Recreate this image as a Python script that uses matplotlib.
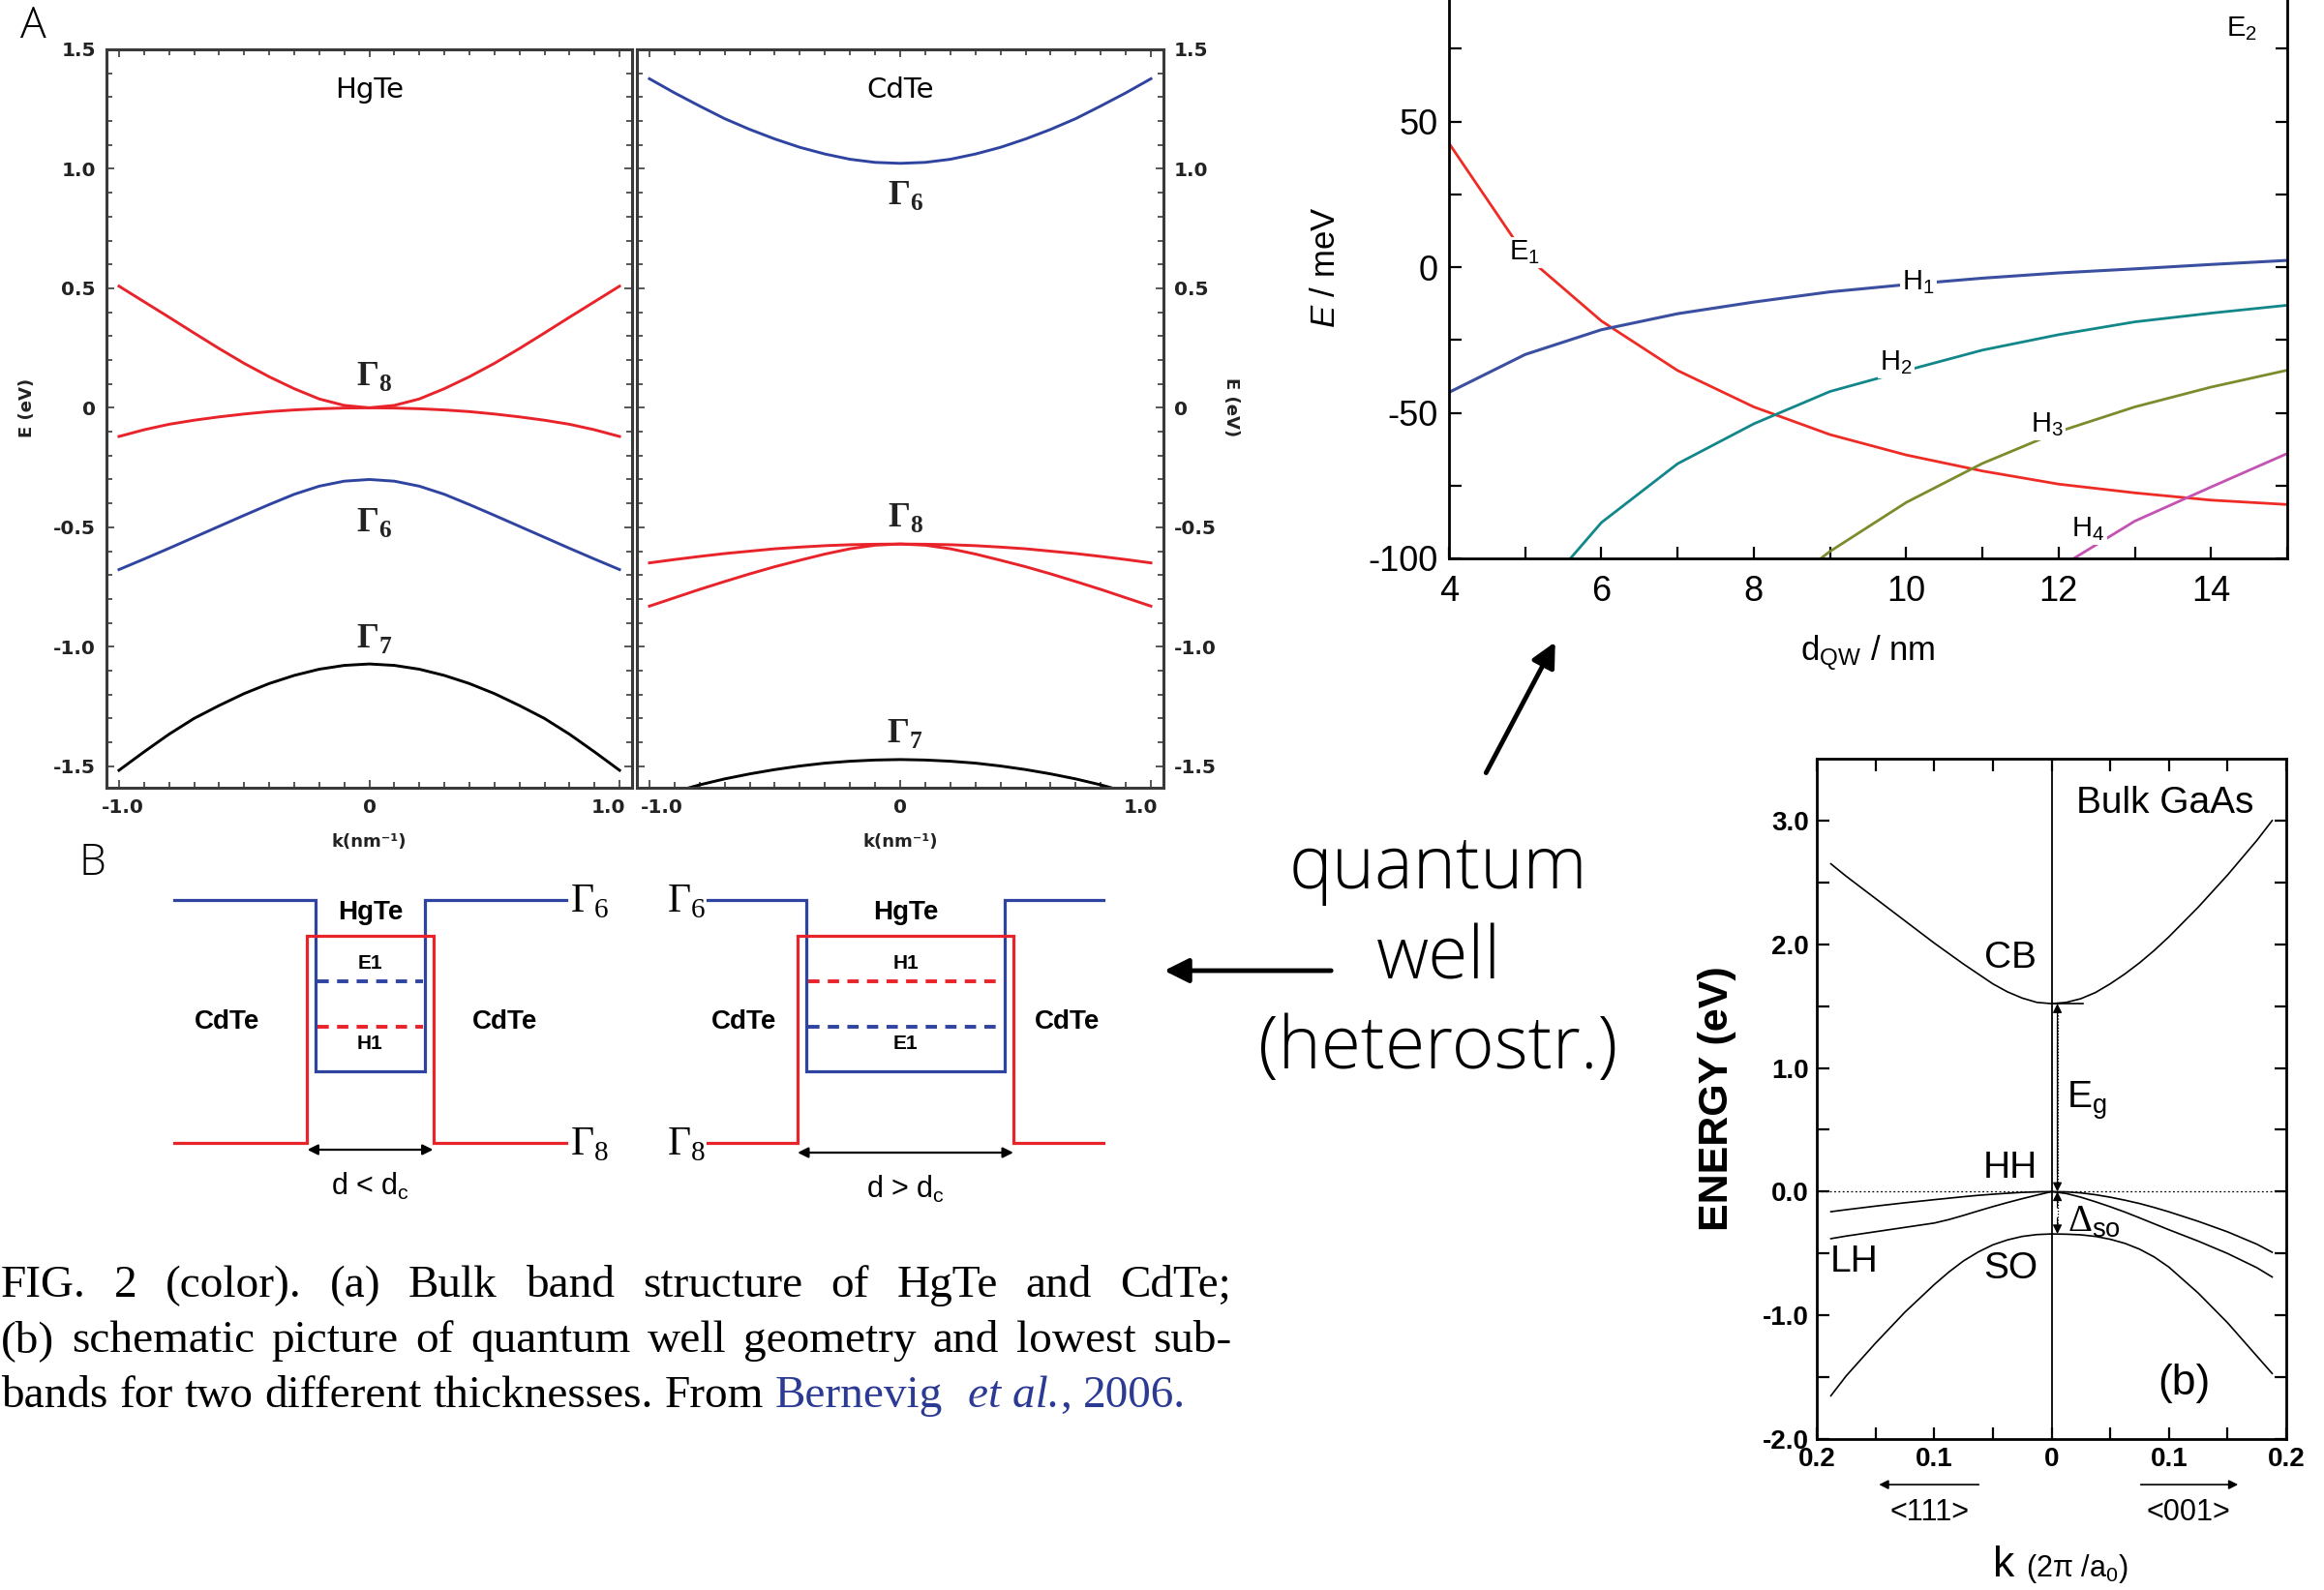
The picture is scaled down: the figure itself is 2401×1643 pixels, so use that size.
import numpy as np
import matplotlib
matplotlib.use("Agg")
import matplotlib.pyplot as plt
from matplotlib.patches import FancyArrowPatch
from matplotlib.ticker import FixedLocator, MultipleLocator

W, H = 2401, 1643

plt.rcParams['axes.unicode_minus'] = False
plt.rcParams['mathtext.fontset'] = 'custom'
plt.rcParams['mathtext.rm'] = 'Liberation Serif'
plt.rcParams['mathtext.bf'] = 'Liberation Serif:bold'
plt.rcParams['mathtext.it'] = 'Liberation Sans:italic'
plt.rcParams['mathtext.sf'] = 'Liberation Sans'

NARROW = ['Liberation Sans Narrow', 'Liberation Sans', 'DejaVu Sans']
SANS = ['Liberation Sans', 'DejaVu Sans']
LIGHT = ['Open Sans', 'Roboto', 'DejaVu Sans']

# ---------------- bulk bands of HgTe / CdTe (E in eV, k in 1/nm), k >= 0 half
K_HALF = [0.0, 0.1, 0.2, 0.3, 0.4, 0.5, 0.6, 0.7, 0.8, 0.9, 1.0]
HGTE_G8_UP = [0.0, 0.010, 0.037, 0.080, 0.130, 0.186, 0.248, 0.313, 0.379, 0.444, 0.509]
HGTE_G8_LO = [0.0, -0.001, -0.004, -0.009, -0.016, -0.026, -0.038, -0.052, -0.069, -0.092, -0.120]
HGTE_G6 = [-0.300, -0.307, -0.328, -0.362, -0.405, -0.450, -0.496, -0.542, -0.588, -0.633, -0.677]
HGTE_G7 = [-1.072, -1.078, -1.094, -1.120, -1.154, -1.196, -1.246, -1.300, -1.366, -1.440, -1.517]
CDTE_G6 = [1.023, 1.027, 1.040, 1.062, 1.090, 1.125, 1.165, 1.210, 1.263, 1.318, 1.377]
CDTE_G8_UP = [-0.570, -0.571, -0.573, -0.577, -0.583, -0.590, -0.600, -0.610, -0.622, -0.635, -0.649]
CDTE_G8_LO = [-0.570, -0.575, -0.590, -0.612, -0.638, -0.665, -0.695, -0.727, -0.760, -0.795, -0.830]
CDTE_G7 = [-1.472, -1.474, -1.479, -1.487, -1.499, -1.514, -1.532, -1.553, -1.578, -1.607, -1.640]

# ---------------- subband energies vs well width (meV, nm)
D_QW = [4, 5, 6, 7, 8, 9, 10, 11, 12, 13, 14, 15]
E1_MEV = [42.5, 4.0, -18.5, -35.5, -48.0, -57.5, -64.5, -70.0, -74.5, -77.5, -80.0, -81.5]
H1_MEV = [-43.0, -30.0, -21.5, -16.0, -12.0, -8.5, -6.0, -3.8, -2.0, -0.6, 0.9, 2.3]
D_H2 = [5, 6, 7, 8, 9, 10, 11, 12, 13, 14, 15]
H2_MEV = [-118.0, -87.7, -67.5, -53.8, -42.7, -35.5, -28.5, -23.2, -18.8, -15.8, -13.1]
D_H3 = [8, 9, 10, 11, 12, 13, 14, 15]
H3_MEV = [-117.6, -97.6, -80.8, -67.4, -56.5, -48.0, -41.2, -35.4]
D_H4 = [12, 13, 14, 15]
H4_MEV = [-103.2, -87.2, -75.5, -64.0]

# ---------------- bulk GaAs (negative k = <111>, positive k = <001>)
GAAS_K = [-0.188, -0.175, -0.15, -0.125, -0.1, -0.0875, -0.075, -0.0625, -0.05, -0.0375,
          -0.025, -0.0125, 0.0, 0.0125, 0.025, 0.0375, 0.05, 0.0625, 0.075, 0.0875,
          0.1, 0.125, 0.15, 0.175, 0.188]
GAAS_CB = [2.65, 2.55, 2.37, 2.19, 2.01, 1.925, 1.84, 1.76, 1.68, 1.615,
           1.565, 1.53, 1.52, 1.53, 1.56, 1.61, 1.68, 1.76, 1.85, 1.95,
           2.06, 2.30, 2.56, 2.84, 3.00]
GAAS_HH = [-0.162, -0.146, -0.117, -0.090, -0.065, -0.053, -0.041, -0.030, -0.021, -0.013,
           -0.006, -0.002, 0.0, -0.002, -0.010, -0.025, -0.045, -0.069, -0.096, -0.128,
           -0.163, -0.240, -0.325, -0.425, -0.490]
GAAS_LH = [-0.380, -0.359, -0.324, -0.289, -0.254, -0.226, -0.192, -0.156, -0.121, -0.088,
           -0.057, -0.028, 0.0, -0.015, -0.045, -0.082, -0.122, -0.165, -0.212, -0.260,
           -0.308, -0.400, -0.500, -0.615, -0.690]
GAAS_SO = [-1.650, -1.490, -1.225, -0.975, -0.752, -0.650, -0.560, -0.488, -0.430, -0.390,
           -0.362, -0.347, -0.342, -0.344, -0.349, -0.362, -0.385, -0.418, -0.465, -0.528,
           -0.610, -0.820, -1.060, -1.330, -1.470]
GAAS_EG = 1.52
GAAS_DSO = 0.342

# ---------------- quantum well schematic (energies normalised to barrier gap)
BARRIER_G6, BARRIER_G8 = 1.0, 0.0
WELL_G8, WELL_G6 = 0.853, 0.295
SUBBAND_UPPER, SUBBAND_LOWER = 0.665, 0.478
WELL_HALF = [0.278, 0.502]      # d < dc, d > dc

RED = '#e8232a'
BLUE = '#2f44a0'
SPINE = '#3a3a3a'
INK = '#222222'

fig = plt.figure(figsize=(W / 100, H / 100), dpi=100)


def px_box(x0, y0, x1, y1):
    return [x0 / W, 1 - y1 / H, (x1 - x0) / W, (y1 - y0) / H]


def mirror(vals):
    v = list(vals)
    return v[:0:-1] + v


K_FULL = [-k for k in K_HALF[:0:-1]] + K_HALF


def style_bulk(ax, xlab_pos, right=False):
    ax.set_xlim(-1.05, 1.05)
    ax.set_ylim(-1.59, 1.5)
    ax.xaxis.set_major_locator(FixedLocator([-1, 0, 1]))
    ax.xaxis.set_minor_locator(MultipleLocator(0.1))
    ax.set_xticklabels(['', '0', ''])
    yt = [-1.5, -1.0, -0.5, 0, 0.5, 1.0, 1.5]
    ax.yaxis.set_major_locator(FixedLocator(yt))
    ax.yaxis.set_minor_locator(MultipleLocator(0.1))
    ax.set_yticklabels(['-1.5', '-1.0', '-0.5', '0', '0.5', '1.0', '1.5'])
    ax.tick_params(which='both', direction='in', top=True, right=True,
                   color=SPINE, width=1.2)
    ax.tick_params(which='major', length=6, labelsize=14.5, pad=8)
    ax.tick_params(which='minor', length=4)
    if right:
        ax.tick_params(labelleft=False, labelright=True)
    for lab in ax.get_xticklabels() + ax.get_yticklabels():
        lab.set_fontweight('bold')
        lab.set_family('DejaVu Sans')
        lab.set_color(INK)
    # end labels of the k axis sit a little inside the frame
    for x, s in zip(xlab_pos, ['-1.0', '1.0']):
        ax.annotate(s, xy=(x, 0), xycoords=ax.get_xaxis_transform(), xytext=(0, -8),
                    textcoords='offset points', ha='center', va='top', fontsize=14.5,
                    fontweight='bold', family='DejaVu Sans', color=INK)
    for s in ax.spines.values():
        s.set_color(SPINE)
        s.set_linewidth(2.2)
    ax.set_xlabel('k(nm⁻¹)', fontsize=13, fontweight='bold', family='DejaVu Sans',
                  color=INK, labelpad=12)


def gamma(ax, x, y, n):
    ax.text(x, y, r'$\mathbf{\Gamma}_\mathbf{%d}$' % n, fontsize=26,
            ha='center', va='center', color=INK)


# ---------------- panel A: HgTe
ax_hg = fig.add_axes(px_box(110, 51, 653, 814))
ax_hg.plot(K_FULL, mirror(HGTE_G8_UP), color=RED, lw=2.1)
ax_hg.plot(K_FULL, mirror(HGTE_G8_LO), color=RED, lw=2.1)
ax_hg.plot(K_FULL, mirror(HGTE_G6), color=BLUE, lw=2.1)
ax_hg.plot(K_FULL, mirror(HGTE_G7), color='black', lw=2.1)
style_bulk(ax_hg, (-0.985, 0.955))
ax_hg.set_ylabel('E (eV)', fontsize=13, fontweight='bold', family='DejaVu Sans', color=INK)
ax_hg.yaxis.set_label_coords(-0.135, 0.515)
ax_hg.text(0, 1.33, 'HgTe', fontsize=21, ha='center', va='center', family='DejaVu Sans')
gamma(ax_hg, 0.02, 0.13, 8)
gamma(ax_hg, 0.02, -0.48, 6)
gamma(ax_hg, 0.02, -0.965, 7)

# ---------------- panel A: CdTe
ax_cd = fig.add_axes(px_box(658, 51, 1202, 814))
ax_cd.plot(K_FULL, mirror(CDTE_G6), color=BLUE, lw=2.1)
ax_cd.plot(K_FULL, mirror(CDTE_G8_UP), color=RED, lw=2.1)
ax_cd.plot(K_FULL, mirror(CDTE_G8_LO), color=RED, lw=2.1)
ax_cd.plot(K_FULL, mirror(CDTE_G7), color='black', lw=2.1)
style_bulk(ax_cd, (-0.95, 0.96), right=True)
ax_cd.yaxis.set_label_position('right')
ax_cd.set_ylabel('E (eV)', fontsize=13, fontweight='bold', family='DejaVu Sans',
                 color=INK, rotation=270)
ax_cd.yaxis.set_label_coords(1.145, 0.515)
ax_cd.text(0, 1.33, 'CdTe', fontsize=21, ha='center', va='center', family='DejaVu Sans')
gamma(ax_cd, 0.02, 0.89, 6)
gamma(ax_cd, 0.02, -0.46, 8)
gamma(ax_cd, 0.02, -1.365, 7)

fig.text(34 / W, 1 - 28 / H, 'A', fontsize=32, family=LIGHT, fontweight='light',
         ha='center', va='center')
fig.text(95 / W, 1 - 893 / H, 'B', fontsize=32, family=LIGHT, fontweight='light',
         ha='center', va='center')


# ---------------- panel B: well schematics
def draw_well(ax, half, upper, lower, arrow_y, d_text, gx, cdl, cdr):
    ax.set_xlim(-1, 1)
    ax.set_ylim(0, 1)
    ax.axis('off')
    hr = half + 0.043
    ax.plot([-1, -half, -half, half, half, 1],
            [BARRIER_G6, BARRIER_G6, WELL_G6, WELL_G6, BARRIER_G6, BARRIER_G6],
            color=BLUE, lw=2.3, solid_joinstyle='miter', clip_on=False)
    ax.plot([-1, -hr, -hr, hr, hr, 1],
            [BARRIER_G8, BARRIER_G8, WELL_G8, WELL_G8, BARRIER_G8, BARRIER_G8],
            color=RED, lw=2.3, solid_joinstyle='miter', clip_on=False)
    for lvl, (name, col) in ((SUBBAND_UPPER, upper), (SUBBAND_LOWER, lower)):
        ax.plot([-half + 0.01, half - 0.01], [lvl, lvl], color=col, lw=2.8,
                ls=(0, (3, 2.2)), clip_on=False)
    ax.text(0, 0.741, upper[0], fontsize=15, fontweight='bold', family=NARROW,
            ha='center', va='center')
    ax.text(0, 0.41, lower[0], fontsize=15, fontweight='bold', family=NARROW,
            ha='center', va='center')
    ax.text(0, 0.948, 'HgTe', fontsize=20, fontweight='bold', family=NARROW,
            ha='center', va='center')
    ax.text(cdl, 0.498, 'CdTe', fontsize=20, fontweight='bold', family=NARROW,
            ha='center', va='center')
    ax.text(cdr, 0.498, 'CdTe', fontsize=20, fontweight='bold', family=NARROW,
            ha='center', va='center')
    ax.text(gx, BARRIER_G6, r'$\Gamma_6$', fontsize=30, ha='center', va='center')
    ax.text(gx, BARRIER_G8, r'$\Gamma_8$', fontsize=30, ha='center', va='center')
    ax.annotate('', xy=(-hr, arrow_y), xytext=(hr, arrow_y),
                arrowprops=dict(arrowstyle='<|-|>', color='black', lw=1.6,
                                mutation_scale=16, shrinkA=0, shrinkB=0),
                annotation_clip=False)
    ax.text(0, arrow_y - 0.15, d_text, fontsize=22, family=NARROW,
            ha='center', va='center')


ax_b1 = fig.add_axes(px_box(180, 930, 585, 1181))
draw_well(ax_b1, WELL_HALF[0], ('E1', BLUE), ('H1', RED), -0.028,
          r'd < d$_\mathsf{c}$', 1.12, -0.733, 0.689)
ax_b2 = fig.add_axes(px_box(731, 930, 1140, 1181))
draw_well(ax_b2, WELL_HALF[1], ('H1', RED), ('E1', BLUE), -0.04,
          r'd > d$_\mathsf{c}$', -1.107, -0.816, 0.815)

# ---------------- subband energies vs well width
ax_qw = fig.add_axes(px_box(1497, -25, 2363, 577))
ax_qw.plot(D_QW, E1_MEV, color='#ee2b25', lw=2.0)
ax_qw.plot(D_QW, H1_MEV, color='#3b4fa0', lw=2.2)
ax_qw.plot(D_H2, H2_MEV, color='#12878a', lw=2.0)
ax_qw.plot(D_H3, H3_MEV, color='#7c8b2b', lw=2.0)
ax_qw.plot(D_H4, H4_MEV, color='#c452b3', lw=2.0)
ax_qw.set_xlim(4, 15)
ax_qw.set_ylim(-100, 100)
ax_qw.xaxis.set_major_locator(MultipleLocator(2))
ax_qw.xaxis.set_minor_locator(MultipleLocator(1))
ax_qw.yaxis.set_major_locator(FixedLocator([-100, -50, 0, 50, 100]))
ax_qw.set_yticklabels(['-100', '-50', '0', '50', ''])
ax_qw.yaxis.set_minor_locator(MultipleLocator(25))
ax_qw.tick_params(which='both', direction='in', right=True, top=True, width=1.6,
                  labelsize=26, length=9)
ax_qw.tick_params(axis='x', pad=12)
ax_qw.tick_params(axis='y', pad=8)
for lab in ax_qw.get_xticklabels() + ax_qw.get_yticklabels():
    lab.set_family(NARROW)
for s in ax_qw.spines.values():
    s.set_linewidth(2.0)
ax_qw.set_ylabel(r'$\mathit{E}$ / meV', fontsize=25, family=NARROW)
ax_qw.yaxis.set_label_coords(-0.128, 0.5)
ax_qw.set_xlabel(r'd$_\mathsf{QW}$ / nm', fontsize=25, family=NARROW)
ax_qw.xaxis.set_label_coords(0.5, -0.128)
box = dict(facecolor='white', edgecolor='none', pad=1.5)
for txt, x, y in ((r'E$_\mathsf{1}$', 4.99, 5.0), (r'H$_\mathsf{1}$', 10.16, -5.3),
                  (r'H$_\mathsf{2}$', 9.87, -32.8), (r'H$_\mathsf{3}$', 11.85, -54.0),
                  (r'H$_\mathsf{4}$', 12.39, -90.0), (r'E$_\mathsf{2}$', 14.4, 82.0)):
    ax_qw.text(x, y, txt, fontsize=21, family=NARROW, ha='center', va='center', bbox=box)

# ---------------- bulk GaAs
ax_ga = fig.add_axes(px_box(1877, 784, 2362, 1487))
for band in (GAAS_CB, GAAS_HH, GAAS_LH, GAAS_SO):
    ax_ga.plot(GAAS_K, band, color='black', lw=1.2)
ax_ga.set_xlim(-0.2, 0.2)
ax_ga.set_ylim(-2.0, 3.5)
ax_ga.axvline(0, color='black', lw=1.3)
ax_ga.axhline(0, color='black', lw=0.9, ls=(0, (1.5, 2)))
ax_ga.plot([0, 0.027], [GAAS_EG, GAAS_EG], color='black', lw=1.2)
kx = 0.005
ax_ga.plot([kx, kx], [0.05, GAAS_EG - 0.05], color='black', lw=0.9, ls=(0, (1, 1.5)))
ax_ga.plot([kx, kx], [-0.05, -GAAS_DSO + 0.05], color='black', lw=0.9, ls=(0, (1, 1.5)))
for y0, y1 in ((0.15, GAAS_EG), (GAAS_EG - 0.15, 0.0), (-0.13, 0.0), (-GAAS_DSO + 0.13, -GAAS_DSO)):
    ax_ga.annotate('', xy=(kx, y1), xytext=(kx, y0),
                   arrowprops=dict(arrowstyle='-|>', color='black', lw=0.9,
                                   mutation_scale=14, shrinkA=0, shrinkB=0))
ax_ga.set_xticks([-0.2, -0.15, -0.1, -0.05, 0, 0.05, 0.1, 0.15, 0.2])
ax_ga.set_xticklabels(['0.2', '', '0.1', '', '0', '', '0.1', '', '0.2'])
ax_ga.yaxis.set_major_locator(FixedLocator([-2, -1.5, -1, -0.5, 0, 0.5, 1, 1.5, 2, 2.5, 3]))
ax_ga.set_yticklabels(['-2.0', '', '-1.0', '', '0.0', '', '1.0', '', '2.0', '', '3.0'])
ax_ga.tick_params(direction='in', top=True, right=True, length=9, width=1.6,
                  labelsize=20, pad=6)
for lab in ax_ga.get_xticklabels() + ax_ga.get_yticklabels():
    lab.set_family(SANS)
    lab.set_fontweight('bold')
for s in ax_ga.spines.values():
    s.set_linewidth(2.0)
ax_ga.set_ylabel('ENERGY (eV)', fontsize=31, family=SANS, fontweight='bold')
ax_ga.yaxis.set_label_coords(-0.171, 0.5)
for txt, x, y, ha, fs in (('Bulk GaAs', 0.097, 3.14, 'center', 28), ('CB', -0.035, 1.89, 'center', 28),
                          (r'E$_\mathsf{g}$', 0.013, 0.74, 'left', 28), ('HH', -0.035, 0.19, 'center', 28),
                          (r'$\Delta_\mathsf{so}$', 0.014, -0.25, 'left', 28),
                          ('LH', -0.168, -0.57, 'center', 28), ('SO', -0.035, -0.62, 'center', 28),
                          ('(b)', 0.113, -1.55, 'center', 32)):
    ax_ga.text(x, y, txt, fontsize=fs, family=SANS, ha=ha, va='center')
tr = ax_ga.get_xaxis_transform()
ax_ga.annotate('', xy=(-0.147, -0.067), xytext=(-0.062, -0.067), xycoords=tr,
               arrowprops=dict(arrowstyle='-|>', color='black', lw=1.2, mutation_scale=14,
                               shrinkA=0, shrinkB=0), annotation_clip=False)
ax_ga.annotate('', xy=(0.159, -0.067), xytext=(0.076, -0.067), xycoords=tr,
               arrowprops=dict(arrowstyle='-|>', color='black', lw=1.2, mutation_scale=14,
                               shrinkA=0, shrinkB=0), annotation_clip=False)
ax_ga.text(-0.104, -0.108, '<111>', transform=tr, fontsize=22, family=SANS,
           ha='center', va='center')
ax_ga.text(0.117, -0.108, '<001>', transform=tr, fontsize=22, family=SANS,
           ha='center', va='center')
ax_ga.text(-0.041, -0.186, 'k', transform=tr, fontsize=32, family=SANS,
           ha='center', va='center')
ax_ga.text(-0.022, -0.19, r'(2$\mathsf{\pi}$ /a$_\mathsf{0}$)', transform=tr, fontsize=22,
           family=SANS, ha='left', va='center')

# ---------------- "quantum well" call-out with arrows
for line, yb in (('quantum', 918), ('well', 1012), ('(heterostr.)', 1104)):
    fig.text(1486 / W, 1 - yb / H, line, fontsize=54, family=LIGHT, fontweight='light',
             ha='center', va='baseline')
fig.add_artist(FancyArrowPatch(
    (1534 / W, 1 - 801 / H), (1608 / W, 1 - 661 / H), transform=fig.transFigure,
    arrowstyle='-|>', mutation_scale=38, lw=3.5, color='black'))
fig.add_artist(FancyArrowPatch(
    (1378 / W, 1 - 1003 / H), (1200 / W, 1 - 1003 / H), transform=fig.transFigure,
    arrowstyle='-|>', mutation_scale=38, lw=3.5, color='black'))

# ---------------- justified caption
CAPTION = [
    [('FIG.', 'n'), ('2', 'n'), ('(color).', 'n'), ('(a)', 'n'), ('Bulk', 'n'), ('band', 'n'),
     ('structure', 'n'), ('of', 'n'), ('HgTe', 'n'), ('and', 'n'), ('CdTe;', 'n')],
    [('(b)', 'n'), ('schematic', 'n'), ('picture', 'n'), ('of', 'n'), ('quantum', 'n'),
     ('well', 'n'), ('geometry', 'n'), ('and', 'n'), ('lowest', 'n'), ('sub-', 'n')],
    [('bands', 'n'), ('for', 'n'), ('two', 'n'), ('different', 'n'), ('thicknesses.', 'n'),
     ('From', 'n'), ('Bernevig', 'b'), ('et al.', 'bi'), (',', 'b'), ('2006.', 'b')],
]
CAP_BASE = [1340, 1397, 1454]
LINK = '#2b3a93'
renderer = fig.canvas.get_renderer()


def word_width(s, size, style='normal'):
    t = fig.text(0, 0, s, fontsize=size, family='Liberation Serif', style=style)
    w = t.get_window_extent(renderer).width
    t.remove()
    return w


cap_size = 34
space = word_width('a a', cap_size) - word_width('aa', cap_size)
for words, yb in zip(CAPTION, CAP_BASE):
    widths = [word_width(w, cap_size, 'italic' if 'i' in k else 'normal') for w, k in words]
    if words is CAPTION[-1]:
        gaps = [space] * (len(words) - 1)
        gaps[-3] = 2.2 * space      # Bernevig  et al.
        gaps[-2] = 0                # et al.,
    else:
        g = (1271 - sum(widths)) / (len(words) - 1)
        gaps = [g] * (len(words) - 1)
    x = 1
    for i, ((w, kind), wd) in enumerate(zip(words, widths)):
        fig.text(x / W, 1 - yb / H, w, fontsize=cap_size, family='Liberation Serif',
                 style='italic' if 'i' in kind else 'normal',
                 color=LINK if 'b' in kind else 'black', va='baseline')
        if i < len(gaps):
            x += wd + gaps[i]

fig.savefig('out.png', dpi=100)
